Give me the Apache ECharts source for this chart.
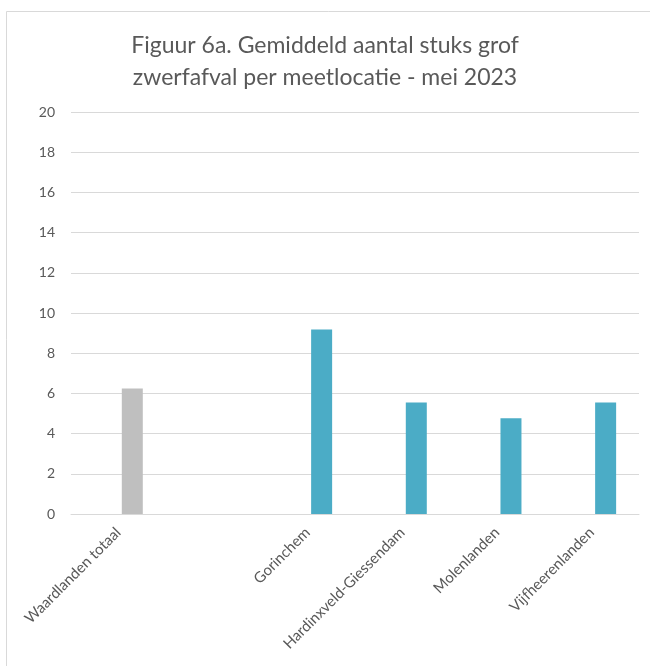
<!DOCTYPE html>
<html>
<head>
<meta charset="utf-8">
<script src="https://cdn.jsdelivr.net/npm/echarts@6/dist/echarts.min.js"></script>
<style>
  html, body { margin: 0; padding: 0; background: #fff; }
  #chart { width: 650px; height: 666px; }
</style>
</head>
<body>
<div id="chart"></div>
<script>
// Categories along the x axis (the second slot is intentionally blank)
const categories = ['Waardlanden totaal', '', 'Gorinchem', 'Hardinxveld-Giessendam', 'Molenlanden', 'Vijfheerenlanden'];
// Average number of large litter items per location, May 2023
const gemiddeld = [6.25, null, 9.18, 5.55, 4.76, 5.55];
// Empty companion series: keeps each bar in the right half of its slot
const leeg = [null, null, null, null, null, null];
const yTicks = { min: 0, max: 20, interval: 2 };

const grey = '#BFBFBF';
const blue = '#4BACC6';
const textColor = '#595959';
const font = 'Lato, "Open Sans", sans-serif';

const chart = echarts.init(document.getElementById('chart'), null, { renderer: 'canvas' });

chart.setOption({
  backgroundColor: '#ffffff',
  animation: false,
  title: {
    text: 'Figuur 6a. Gemiddeld aantal stuks grof\nzwerfafval per meetlocatie - mei 2023',
    left: 'center',
    top: 25,
    textStyle: {
      fontFamily: font,
      fontSize: 23,
      fontWeight: 'normal',
      color: textColor,
      lineHeight: 32
    }
  },
  graphic: [{
    type: 'rect',
    shape: { x: 6.5, y: 11.5, width: 700, height: 700 },
    style: { fill: 'none', stroke: '#D9D9D9', lineWidth: 1 },
    silent: true
  }],
  grid: { left: 71, right: 11, top: 112, bottom: 152, containLabel: false },
  xAxis: {
    type: 'category',
    data: categories,
    axisLine: { show: true, lineStyle: { color: '#D9D9D9', width: 1 } },
    axisTick: { show: false },
    axisLabel: {
      rotate: 45,
      interval: 0,
      margin: 16,
      fontFamily: font,
      fontSize: 15,
      color: textColor
    }
  },
  yAxis: {
    type: 'value',
    min: yTicks.min,
    max: yTicks.max,
    interval: yTicks.interval,
    axisLine: { show: false },
    axisTick: { show: false },
    splitLine: { lineStyle: { color: '#D9D9D9', width: 1 } },
    axisLabel: {
      margin: 16,
      fontFamily: font,
      fontSize: 14,
      color: textColor
    }
  },
  series: [
    {
      type: 'bar',
      data: leeg,
      barWidth: 21,
      barGap: '33%'
    },
    {
      type: 'bar',
      data: gemiddeld.map((v, i) => ({
        value: v,
        itemStyle: { color: i === 0 ? grey : blue }
      })),
      barWidth: 21,
      barGap: '33%'
    }
  ]
});
</script>
</body>
</html>
